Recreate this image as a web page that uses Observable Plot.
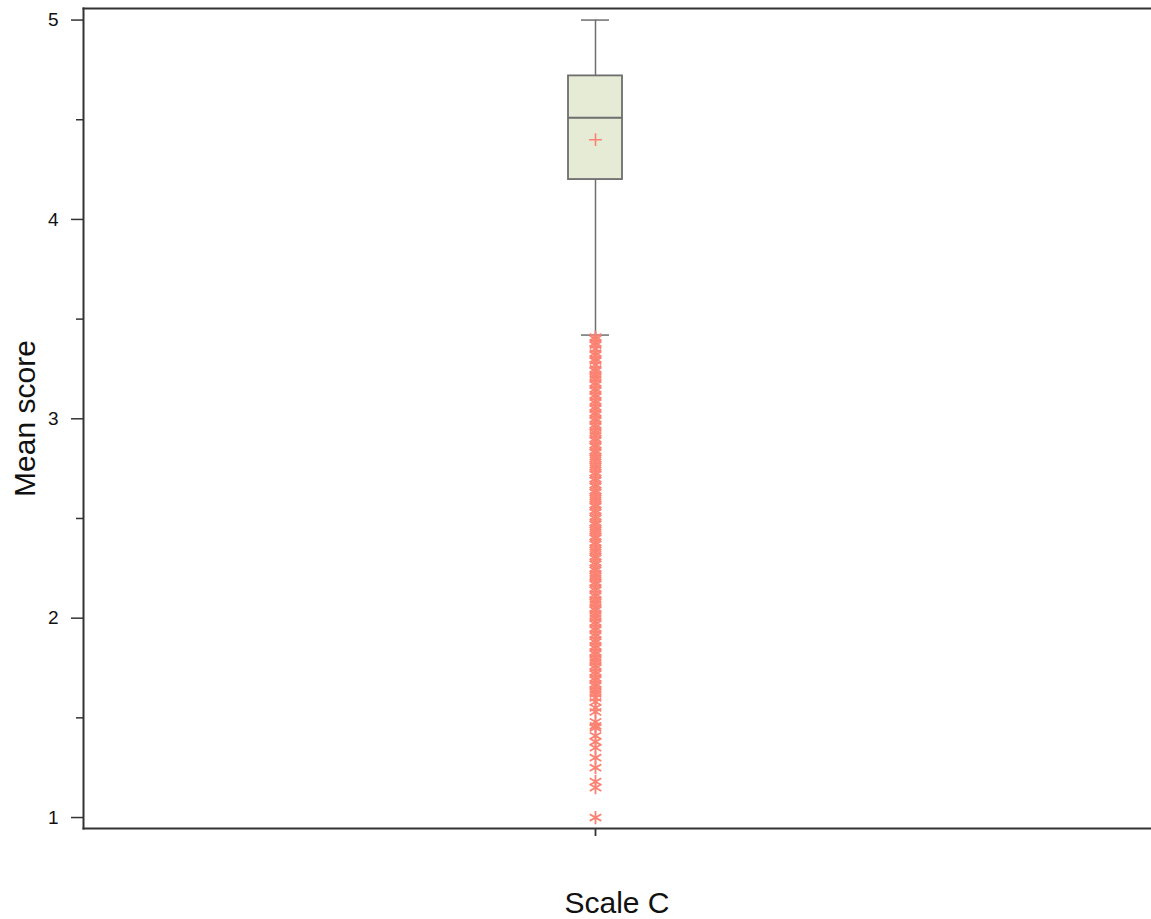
<!DOCTYPE html>
<html>
<head>
<meta charset="utf-8">
<script src="https://cdn.jsdelivr.net/npm/d3@7"></script>
<script src="https://cdn.jsdelivr.net/npm/@observablehq/plot@0.6"></script>
<style>
  html, body { margin: 0; padding: 0; background: #fff; overflow: hidden; }
  #chart svg { display: block; }
</style>
</head>
<body>
<div id="chart"></div>
<script>
// ---- data ----
const categories = ["Scale C"];
const q1 = [4.20];
const median = [4.51];
const q3 = [4.72];
const whiskerLow = [3.42];
const whiskerHigh = [5.00];
const meanValue = [4.40];
const outliers = [
  3.41, 3.40, 3.38, 3.37, 3.35, 3.33, 3.32, 3.30, 3.29, 3.27, 3.25, 3.24, 3.22, 3.21, 3.20, 3.18,
  3.17, 3.15, 3.14, 3.12, 3.11, 3.09, 3.08, 3.06, 3.05, 3.03, 3.02, 3.00, 2.99, 2.97, 2.96, 2.94,
  2.93, 2.92, 2.90, 2.89, 2.87, 2.86, 2.84, 2.83, 2.81, 2.80, 2.79, 2.77, 2.76, 2.75, 2.73, 2.72,
  2.70, 2.69, 2.67, 2.66, 2.64, 2.63, 2.61, 2.60, 2.59, 2.57, 2.56, 2.54, 2.53, 2.51, 2.50, 2.48,
  2.47, 2.45, 2.44, 2.43, 2.41, 2.40, 2.38, 2.37, 2.35, 2.34, 2.33, 2.31, 2.30, 2.28, 2.27, 2.25,
  2.24, 2.22, 2.21, 2.20, 2.18, 2.17, 2.15, 2.14, 2.12, 2.11, 2.09, 2.08, 2.07, 2.05, 2.04, 2.02,
  2.01, 2.00, 1.98, 1.97, 1.95, 1.94, 1.92, 1.91, 1.89, 1.88, 1.86, 1.85, 1.83, 1.82, 1.80, 1.79,
  1.78, 1.76, 1.75, 1.73, 1.72, 1.70, 1.69, 1.67, 1.66, 1.64, 1.63, 1.62, 1.60, 1.58, 1.55, 1.53,
  1.48, 1.46, 1.45, 1.41, 1.38, 1.35, 1.30, 1.25, 1.18, 1.15, 1.00
];
const majorTicks = [1, 2, 3, 4, 5];
const minorTicks = [1.5, 2.5, 3.5, 4.5];
const yLabel = "Mean score";

// ---- tables built from arrays ----
const boxes = categories.map((c, i) => ({
  cat: c, q1: q1[i], median: median[i], q3: q3[i],
  lo: whiskerLow[i], hi: whiskerHigh[i], mean: meanValue[i]
}));
const outlierRows = outliers.map(v => ({cat: categories[0], v}));

const boxStroke = "#6e6e6e";
const salmon = "#fb8272";

const chart = Plot.plot({
  width: 1151,
  height: 919,
  marginLeft: 83,
  marginRight: 0,
  marginTop: 8,
  marginBottom: 91,
  style: {fontFamily: "'Liberation Sans', Arial, sans-serif", fontSize: "19px", color: "#111", background: "#fff"},
  x: {type: "band", domain: categories, padding: 0.9, insetRight: 44, axis: null},
  y: {domain: [0.945, 5.058], axis: null},
  marks: [
    // whiskers
    Plot.ruleX(boxes, {x: "cat", y1: "lo", y2: "q1", stroke: boxStroke, strokeWidth: 1.5}),
    Plot.ruleX(boxes, {x: "cat", y1: "q3", y2: "hi", stroke: boxStroke, strokeWidth: 1.5}),
    Plot.tickY(boxes, {x: "cat", y: "lo", stroke: boxStroke, strokeWidth: 1.5, insetLeft: 13, insetRight: 13}),
    Plot.tickY(boxes, {x: "cat", y: "hi", stroke: boxStroke, strokeWidth: 1.5, insetLeft: 13, insetRight: 13}),
    // outliers
    Plot.dot(outlierRows, {x: "cat", y: "v", symbol: "asterisk", r: 6.3, stroke: salmon, strokeWidth: 1.8}),
    // box
    Plot.barY(boxes, {x: "cat", y1: "q1", y2: "q3", fill: "#e6ebd6", stroke: boxStroke, strokeWidth: 1.8}),
    Plot.tickY(boxes, {x: "cat", y: "median", stroke: boxStroke, strokeWidth: 1.8}),
    Plot.dot(boxes, {x: "cat", y: "mean", symbol: "plus", r: 4.2, stroke: salmon, strokeWidth: 1.6}),
    // axes
    Plot.axisY({ticks: majorTicks, tickSize: 12, tickPadding: 13, tickFormat: d => d, fontSize: 19, label: yLabel,
      labelAnchor: "center", labelArrow: "none", labelOffset: 70, stroke: "#333", strokeWidth: 1.5}),
    Plot.axisY({ticks: minorTicks, tickSize: 7, tickFormat: () => "", label: null, stroke: "#333", strokeWidth: 1.5}),
    Plot.axisX({tickSize: 8, tickFormat: () => "", label: null, stroke: "#333", strokeWidth: 1.8}),
    Plot.frame({anchor: "left", stroke: "#333", strokeWidth: 2}),
    Plot.frame({anchor: "top", stroke: "#333", strokeWidth: 2}),
    Plot.frame({anchor: "bottom", stroke: "#333", strokeWidth: 2})
  ]
});

document.getElementById("chart").append(chart);
const svg = d3.select(chart);
// x-axis label (category name) as real text
svg.append("text")
  .attr("x", (83 + 1151) / 2)
  .attr("y", 913)
  .attr("text-anchor", "middle")
  .attr("font-size", 30)
  .attr("fill", "#111")
  .text(categories[0]);
svg.selectAll("[aria-label='y-axis label'] text, [aria-label='y-axis label']")
  .attr("font-size", 30);
</script>
</body>
</html>
